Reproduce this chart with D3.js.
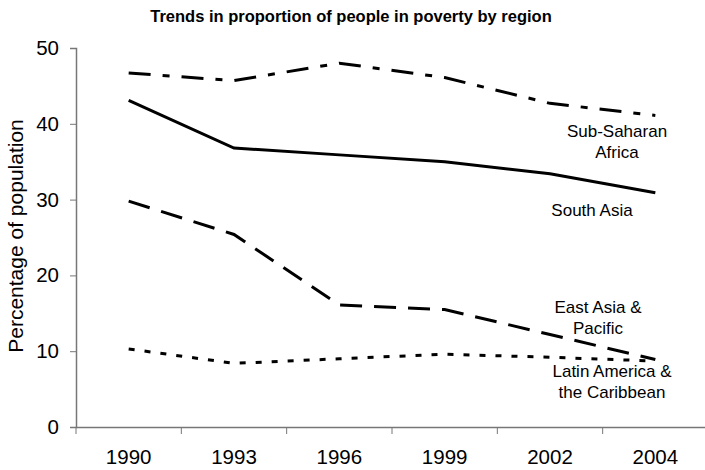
<!DOCTYPE html>
<html>
<head>
<meta charset="utf-8">
<script src="https://cdn.jsdelivr.net/npm/d3@7"></script>
<style>
  body { margin: 0; background: #fff; }
  svg { display: block; font-family: "Liberation Sans", Arial, sans-serif; }
</style>
</head>
<body>
<svg id="chart" width="705" height="470"></svg>
<script>
let years = ["1990", "1993", "1996", "1999", "2002", "2004"];
let yTicks = [0, 10, 20, 30, 40, 50];

let subSaharan = [46.7, 45.7, 48.0, 46.1, 42.7, 41.1];
let southAsia = [43.1, 36.8, 35.9, 35.0, 33.4, 30.9];
let eastAsia = [29.8, 25.4, 16.1, 15.5, 12.2, 8.9];
let latinAmerica = [10.3, 8.4, 9.0, 9.6, 9.2, 8.7];

let seriesNames = ["Sub-Saharan Africa", "South Asia", "East Asia & Pacific", "Latin America & the Caribbean"];
let seriesLabels = [["Sub-Saharan", "Africa"], ["South Asia"], ["East Asia &", "Pacific"], ["Latin America &", "the Caribbean"]];

let width = 705, height = 470;
let margin = {top: 48, right: -3, bottom: 43, left: 76};

let svg = d3.select("#chart");

let x = d3.scaleBand().domain(years).range([margin.left, width - margin.right]);
let y = d3.scaleLinear().domain([0, 50]).range([height - margin.bottom, margin.top]);

// title
svg.append("text")
    .attr("x", 351)
    .attr("y", 22)
    .attr("text-anchor", "middle")
    .style("font-size", "16.5px")
    .style("font-weight", "bold")
    .text("Trends in proportion of people in poverty by region");

// y axis
let y_axis = svg.append("g")
    .attr("transform", `translate(${margin.left},0)`)
    .call(d3.axisLeft(y).tickValues(yTicks).tickSize(6).tickPadding(11));
y_axis.selectAll("text").style("font-size", "20.5px").style("fill", "#000");

// x axis: ticks at band edges, labels at band centres
let x_axis = svg.append("g")
    .attr("transform", `translate(0,${height - margin.bottom})`)
    .call(d3.axisBottom(x).tickSize(0).tickPadding(22));
x_axis.selectAll("text").style("font-size", "20.5px").style("fill", "#000");
x_axis.selectAll(".edge")
    .data(years)
    .enter().append("line")
    .attr("x1", d => x(d)).attr("x2", d => x(d))
    .attr("y1", 0).attr("y2", 7)
    .attr("stroke", "#777");

svg.selectAll(".domain").attr("stroke", "#777").attr("stroke-width", 1.5);
y_axis.selectAll(".tick line").attr("stroke", "#777");

// y label
svg.append("text")
    .attr("transform", `translate(23,236) rotate(-90)`)
    .attr("text-anchor", "middle")
    .style("font-size", "21px")
    .text("Percentage of population");

let line = d3.line()
    .x((d, i) => x(years[i]) + x.bandwidth() / 2)
    .y(d => y(d));

let series = [
    {values: subSaharan, dash: "22 12 7 12"},
    {values: southAsia, dash: null},
    {values: eastAsia, dash: "22 12"},
    {values: latinAmerica, dash: "6 10"}
];

svg.append("g").attr("class", "lines")
    .selectAll("path")
    .data(series)
    .enter().append("path")
    .attr("d", d => line(d.values))
    .attr("fill", "none")
    .attr("stroke", "#000")
    .attr("stroke-width", 3)
    .attr("stroke-dasharray", d => d.dash);

// labels next to the line ends
let labelPos = [
    {x: 617, y: 137},
    {x: 592, y: 216},
    {x: 598, y: 313},
    {x: 612, y: 377}
];

let labels = svg.append("g").attr("class", "labels");
seriesLabels.forEach((lines, i) => {
    let t = labels.append("text")
        .attr("text-anchor", "middle")
        .style("font-size", "17px");
    lines.forEach((s, j) => {
        t.append("tspan")
            .attr("x", labelPos[i].x)
            .attr("y", labelPos[i].y + j * 20.5)
            .text(s);
    });
});
</script>
</body>
</html>
